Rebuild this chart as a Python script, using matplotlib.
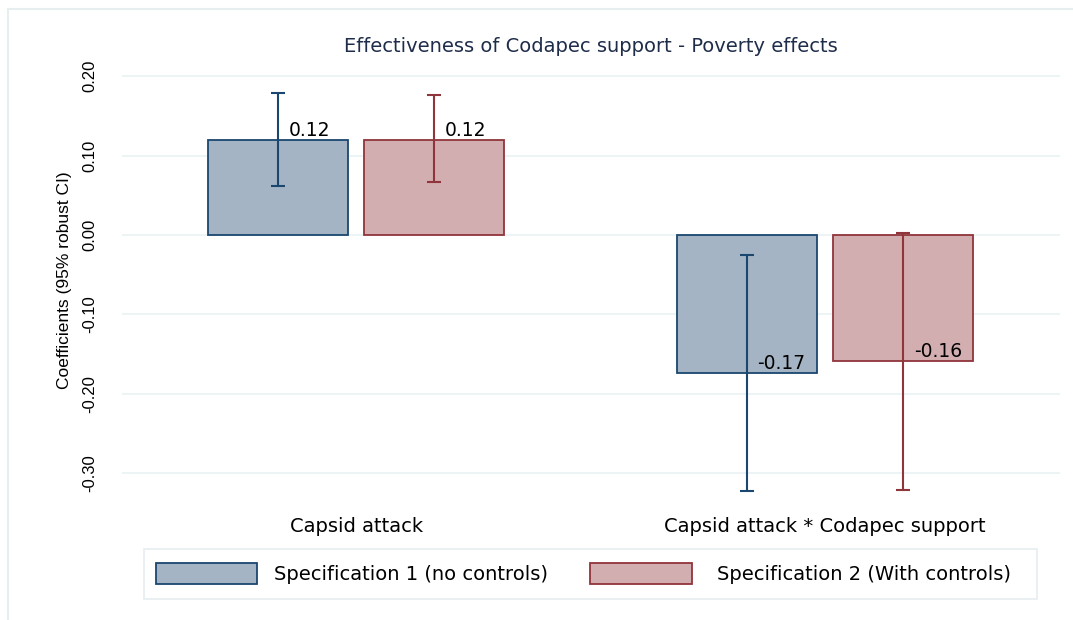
import numpy as np
import matplotlib
matplotlib.use("Agg")
import matplotlib.pyplot as plt
from matplotlib.patches import Rectangle
from matplotlib.lines import Line2D

# values
categories = ["Capsid attack", "Capsid attack * Codapec support"]
series = ["Specification 1 (no controls)", "Specification 2 (With controls)"]
spec1_coef = [0.1196, -0.1734]
spec1_lo = [0.0621, -0.3219]
spec1_hi = [0.1792, -0.0256]
spec2_coef = [0.1196, -0.1583]
spec2_lo = [0.0663, -0.3210]
spec2_hi = [0.1766, 0.0029]
yticks = [-0.3, -0.2, -0.1, 0.0, 0.1, 0.2]

face = ["#a5b4c4", "#d3aeb1"]
edge = ["#1a476f", "#90353b"]
W, H = 1073, 620

def fx(px):
    return px / W

def fy(py):
    return 1 - py / H

fig = plt.figure(figsize=(W / 100, H / 100), dpi=100, facecolor="white")
ax_l, ax_r = 121.7, 1059.7
ax = fig.add_axes([fx(ax_l), fy(497.1), (ax_r - ax_l) / W, (497.1 - 64.2) / H])

x = np.arange(len(categories))
bw = 0.298
off = 0.1666
coefs = [spec1_coef, spec2_coef]
los = [spec1_lo, spec2_lo]
his = [spec1_hi, spec2_hi]

ax.set_yticks(yticks)
ax.grid(axis="y", color="#eaf2f3", linewidth=1.2, zorder=0)
ax.set_axisbelow(True)

for i in range(2):
    xs = x + (i * 2 - 1) * off
    c = np.array(coefs[i])
    ax.bar(xs, c, width=bw, color=face[i], edgecolor=edge[i], linewidth=1.3, zorder=2)
    err = [c - np.array(los[i]), np.array(his[i]) - c]
    ax.errorbar(xs, c, yerr=err, fmt="none", ecolor=edge[i], elinewidth=1.5,
                capsize=5, capthick=1.5, zorder=3)
    for xv, v in zip(xs, c):
        ax.annotate(f"{v:.2f}", xy=(xv, v), xytext=(7.5, 3), textcoords="offset points",
                    ha="left", va="baseline", fontsize=13.5, family="DejaVu Sans", zorder=4)

ax.set_xlim(-0.5, 1.5)
ax.set_ylim(-0.33, 0.215)
ax.set_xticks(x)
ax.set_xticklabels(categories, fontsize=14, family="DejaVu Sans")
ax.set_yticklabels([f"{t:.2f}" for t in yticks], rotation=90, va="center",
                   fontsize=12, family="Liberation Sans")
ax.tick_params(axis="x", length=0, pad=14)
ax.tick_params(axis="y", length=0, pad=17.5)
for s in ax.spines.values():
    s.set_visible(False)
ax.set_ylabel("Coefficients (95% robust CI)", fontsize=12.5, family="Liberation Sans")
ax.yaxis.set_label_coords((71.7 - ax_l) / (ax_r - ax_l), 0.5)

fig.text(fx(591), fy(47), "Effectiveness of Codapec support - Poverty effects",
         ha="center", va="center", fontsize=14, color="#1f2d4a", family="DejaVu Sans")

# legend box drawn by hand to match the Stata layout
fig.add_artist(Rectangle((fx(144), fy(599)), fx(1037 - 144), (599 - 549.3) / H,
                         transform=fig.transFigure, facecolor="white",
                         edgecolor="#e6eef0", linewidth=1.2))
sw_x = [155.7, 590.0]
tx_x = [274.0, 717.0]
for i in range(2):
    fig.add_artist(Rectangle((fx(sw_x[i]), fy(584.3)), fx(101.6), 21 / H,
                             transform=fig.transFigure, facecolor=face[i],
                             edgecolor=edge[i], linewidth=1.3))
    fig.text(fx(tx_x[i]), fy(574), series[i], ha="left", va="center",
             fontsize=14, family="DejaVu Sans")

# faint outer graph-region border
fig.add_artist(Line2D([fx(7.5), fx(7.5), 1.0], [0.0, fy(8.5), fy(8.5)],
                      transform=fig.transFigure, color="#e6eef0", linewidth=1.5))

fig.savefig("out.png", dpi=100, facecolor="white")
